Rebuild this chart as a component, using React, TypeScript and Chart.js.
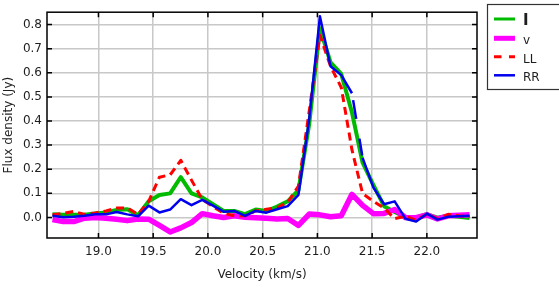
import React, { useEffect, useRef } from "react";
import { Chart, registerables } from "chart.js";
Chart.register(...registerables);

const velocities = [
  18.58, 18.678, 18.775, 18.873, 18.971, 19.069, 19.166, 19.264, 19.362, 19.459,
  19.557, 19.655, 19.752, 19.85, 19.948, 20.046, 20.143, 20.241, 20.339, 20.436,
  20.534, 20.632, 20.729, 20.827, 20.925, 21.023, 21.12, 21.218, 21.316, 21.413,
  21.511, 21.609, 21.706, 21.804, 21.902, 22.0, 22.097, 22.195, 22.293, 22.39,
];

const stokesI = [
  0.013, 0.011, 0.011, 0.011, 0.017, 0.021, 0.031, 0.034, 0.009, 0.067,
  0.093, 0.1, 0.167, 0.1, 0.083, 0.055, 0.027, 0.027, 0.014, 0.033,
  0.027, 0.045, 0.067, 0.113, 0.387, 0.785, 0.643, 0.595, 0.435, 0.227,
  0.135, 0.047, 0.023, 0.001, 0.0, 0.014, -0.001, 0.007, 0.003, -0.002,
];

const stokesV = [
  -0.009, -0.017, -0.017, -0.003, 0.0, -0.003, -0.007, -0.013, -0.006, -0.007,
  -0.033, -0.06, -0.043, -0.021, 0.016, 0.007, 0.0, 0.007, 0.001, -0.001,
  -0.003, -0.006, -0.004, -0.033, 0.014, 0.011, 0.003, 0.007, 0.096, 0.05,
  0.016, 0.017, 0.033, 0.0, -0.001, 0.011, -0.006, 0.007, 0.009, 0.011,
];

const polLL = [
  0.011, 0.017, 0.025, 0.013, 0.019, 0.027, 0.039, 0.04, 0.013, 0.067,
  0.167, 0.177, 0.237, 0.155, 0.075, 0.045, 0.017, 0.007, 0.007, 0.027,
  0.034, 0.04, 0.063, 0.13, 0.44, 0.755, 0.627, 0.539, 0.28, 0.099,
  0.067, 0.039, -0.005, 0.005, -0.011, 0.014, -0.005, 0.013, 0.007, 0.003,
];

const polRR = [
  0.007, 0.001, 0.003, 0.007, 0.013, 0.013, 0.023, 0.013, 0.005, 0.049,
  0.021, 0.033, 0.076, 0.051, 0.073, 0.049, 0.024, 0.027, 0.007, 0.027,
  0.02, 0.034, 0.047, 0.094, 0.407, 0.834, 0.627, 0.59, 0.515, 0.247,
  0.125, 0.055, 0.067, -0.005, -0.017, 0.016, -0.009, 0.003, 0.005, 0.007,
];

const xTicks = [19.0, 19.5, 20.0, 20.5, 21.0, 21.5, 22.0];
const yTicks = [0.0, 0.1, 0.2, 0.3, 0.4, 0.5, 0.6, 0.7, 0.8];
const seriesLabels = ["I", "v", "LL", "RR"];
const seriesColors = ["#00bb00", "#ff00ff", "#ff0000", "#0000ee"];

const FONT = "'DejaVu Sans', 'Liberation Sans', sans-serif";
const TEXT = "#1e1e1e";

export default function App() {
  const ref = useRef<HTMLCanvasElement>(null);

  useEffect(() => {
    document.body.style.margin = "0";
    const canvas = ref.current;
    if (!canvas) return;
    const pts = (ys: number[]) => ys.map((y, i) => ({ x: velocities[i], y }));

    const frame = {
      id: "frame",
      afterDraw(chart: any) {
        const { ctx, chartArea: a, scales } = chart;
        ctx.save();
        ctx.strokeStyle = "#000";
        ctx.lineWidth = 1.5;
        ctx.strokeRect(a.left, a.top, a.right - a.left, a.bottom - a.top);
        ctx.beginPath();
        for (const t of xTicks) {
          const px = scales.x.getPixelForValue(t);
          ctx.moveTo(px, a.bottom);
          ctx.lineTo(px, a.bottom - 5);
          ctx.moveTo(px, a.top);
          ctx.lineTo(px, a.top + 5);
        }
        for (const t of yTicks) {
          const py = scales.y.getPixelForValue(t);
          ctx.moveTo(a.left, py);
          ctx.lineTo(a.left + 5, py);
          ctx.moveTo(a.right, py);
          ctx.lineTo(a.right - 5, py);
        }
        ctx.stroke();

        // legend
        const lx = 487.5;
        const ly = 4.5;
        ctx.lineWidth = 1.2;
        ctx.strokeStyle = "#333";
        ctx.strokeRect(lx, ly, 90, 85);
        const rows = [19, 38.3, 56.7, 75.3];
        const widths = [3, 5, 3, 2.5];
        seriesLabels.forEach((lab, i) => {
          const y = rows[i];
          ctx.beginPath();
          ctx.strokeStyle = seriesColors[i];
          ctx.lineWidth = widths[i];
          ctx.setLineDash(i === 2 ? [7.5, 7.5] : []);
          ctx.moveTo(494, y);
          ctx.lineTo(515, y);
          ctx.stroke();
          ctx.setLineDash([]);
          ctx.fillStyle = TEXT;
          ctx.textBaseline = "middle";
          ctx.textAlign = "left";
          ctx.font = i === 0 ? `bold 15px ${FONT}` : `12px ${FONT}`;
          ctx.fillText(lab, 523, y + (i === 0 ? 2.5 : 3));
        });
        ctx.restore();
      },
    };

    const tickFont = { family: FONT, size: 12 };

    const chart = new Chart(canvas, {
      type: "line",
      data: {
        datasets: [
          {
            label: seriesLabels[0],
            data: pts(stokesI),
            borderColor: seriesColors[0],
            borderWidth: 4,
            order: 3,
          },
          {
            label: seriesLabels[1],
            data: pts(stokesV),
            borderColor: seriesColors[1],
            borderWidth: 5.5,
            order: 2,
          },
          {
            label: seriesLabels[2],
            data: pts(polLL),
            borderColor: seriesColors[2],
            borderWidth: 3,
            borderDash: [8, 5],
            order: 1,
          },
          {
            label: seriesLabels[3],
            data: pts(polRR),
            borderColor: seriesColors[3],
            borderWidth: 2.5,
            order: 0,
            segment: {
              borderDash: (c: any) => (c.p0DataIndex === 28 ? [0, 7, 19, 20, 17, 5] : undefined),
            },
          },
        ],
      },
      options: {
        animation: false,
        responsive: false,
        devicePixelRatio: 1,
        layout: { padding: { top: 4, right: 82, left: 0, bottom: 0 } },
        elements: {
          point: { radius: 0, hoverRadius: 0 },
          line: { tension: 0, fill: false, borderJoinStyle: "round" },
        },
        plugins: {
          legend: { display: false },
          tooltip: { enabled: false },
        },
        scales: {
          x: {
            type: "linear",
            min: 18.53,
            max: 22.458,
            afterBuildTicks: (s: any) => {
              s.ticks = xTicks.map((v) => ({ value: v }));
            },
            afterFit: (s: any) => {
              s.height = 50;
            },
            ticks: {
              callback: (v: any) => Number(v).toFixed(1),
              font: tickFont,
              color: TEXT,
              padding: 7,
              maxRotation: 0,
              autoSkip: false,
            },
            grid: { color: "#c8c8c8", lineWidth: 1.5, drawTicks: false },
            border: { display: false },
            title: {
              display: true,
              text: "Velocity (km/s)",
              font: tickFont,
              color: TEXT,
              padding: { top: 0, bottom: 6 },
            },
          },
          y: {
            type: "linear",
            min: -0.085,
            max: 0.851,
            afterBuildTicks: (s: any) => {
              s.ticks = yTicks.map((v) => ({ value: v }));
            },
            afterFit: (s: any) => {
              s.width = 47;
            },
            ticks: {
              callback: (v: any) => Number(v).toFixed(1),
              font: tickFont,
              color: TEXT,
              padding: 5,
              autoSkip: false,
            },
            grid: { color: "#c8c8c8", lineWidth: 1.5, drawTicks: false },
            border: { display: false },
            title: {
              display: true,
              text: "Flux density (Jy)",
              font: tickFont,
              color: TEXT,
              padding: { top: 1.5, bottom: 0 },
            },
          },
        },
      },
      plugins: [frame],
    } as any);

    return () => chart.destroy();
  }, []);

  return <canvas ref={ref} width={559} height={288} style={{ display: "block" }} />;
}
